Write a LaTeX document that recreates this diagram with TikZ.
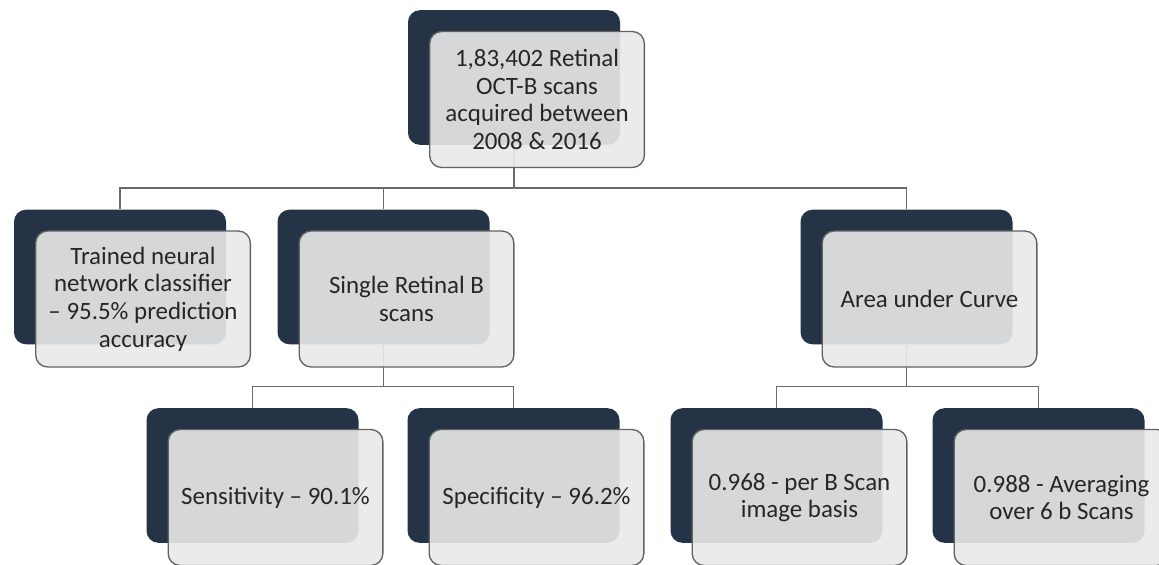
\documentclass[tikz,border=0pt]{standalone}
\usepackage{fontspec}
\setmainfont{Carlito}
\definecolor{navy}{HTML}{253346}
\definecolor{pane}{HTML}{E9E9EA}
\definecolor{rim}{HTML}{626262}
\definecolor{ink}{HTML}{262626}
\definecolor{wirecol}{HTML}{6A6A6A}

\begin{document}
\begin{tikzpicture}[x=.75pt, y=.75pt,
  back/.style={fill=navy, rounded corners=9pt, minimum width=159pt, minimum height=101pt, inner sep=0pt},
  front/.style={fill=pane, fill opacity=.9, text opacity=1, draw=rim, line width=1pt, rounded corners=9pt,
    minimum width=161pt, minimum height=102pt, inner sep=0pt, align=center, text=ink,
    font=\fontsize{18.7}{20.7}\selectfont},
  wire/.style={draw=wirecol, line width=1.1pt}]

\clip (0,0) rectangle (1159,564);

\node [back] (scans) at (514,486.5) {};
\node [back] (net) at (120,287) {};
\node [back] (single) at (383.5,287) {};
\node [back] (auc) at (906.5,287) {};
\node [back] (sens) at (252.5,88.5) {};
\node [back] (spec) at (513.5,88.5) {};
\node [back] (perscan) at (776.5,88.5) {};
\node [back] (avg) at (1038.5,88.5) {};

\foreach \k in {net, single, auc}
  \draw [wire] (scans.south) -- ++(0,-43) -| (\k.north);
\foreach \k in {sens, spec}
  \draw [wire] (single.south) -- ++(0,-42) -| (\k.north);
\foreach \k in {perscan, avg}
  \draw [wire] (auc.south) -- ++(0,-42) -| (\k.north);

\node [front] (scansf) at ([shift={(23,-22)}]scans.center) {1,83,402 Retinal\\OCT-B scans\\acquired between\\2008 \& 2016};
\node [front] (netf) at ([shift={(23,-22)}]net.center) {Trained neural\\network classifier\\-- 95.5\% prediction\\accuracy};
\node [front] (singlef) at ([shift={(23,-22)}]single.center) {Single Retinal B\\scans};
\node [front] (aucf) at ([shift={(23,-22)}]auc.center) {Area under Curve};
\node [front] (sensf) at ([shift={(23,-22)}]sens.center) {Sensitivity -- 90.1\%};
\node [front] (specf) at ([shift={(23,-22)}]spec.center) {Specificity -- 96.2\%};
\node [front] (perscanf) at ([shift={(23,-22)}]perscan.center) {0.968 - per B Scan\\image basis};
\node [front] (avgf) at ([shift={(23,-22)}]avg.center) {0.988 - Averaging\\over 6 b Scans};
\end{tikzpicture}
\end{document}
